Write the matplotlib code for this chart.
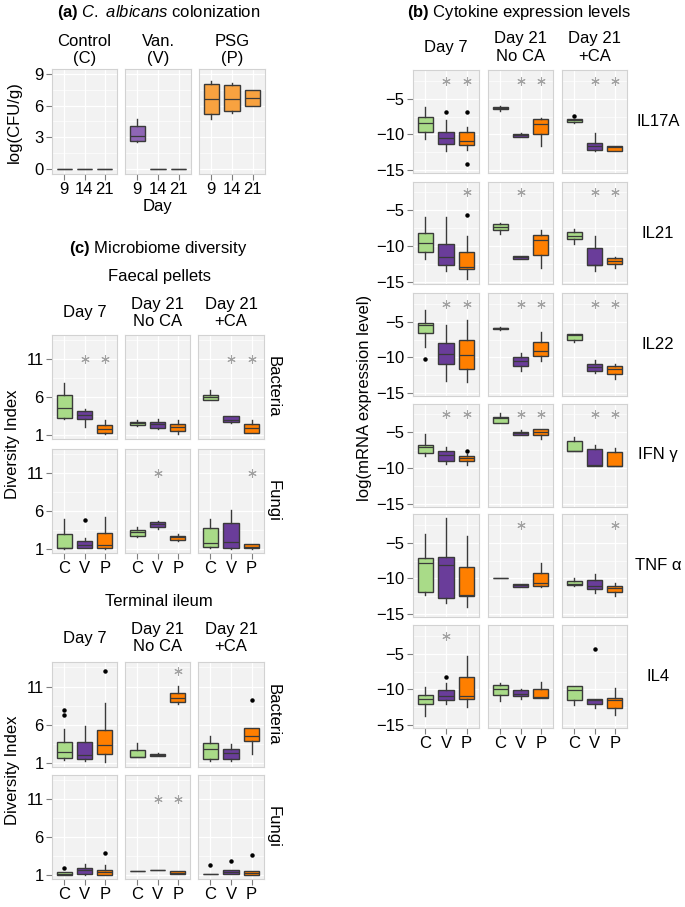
import matplotlib
matplotlib.use("Agg")
import matplotlib.pyplot as plt
from matplotlib.ticker import FixedLocator

plt.rcParams['font.family'] = ['Liberation Sans', 'DejaVu Sans']
plt.rcParams['mathtext.fontset'] = 'custom'
plt.rcParams['mathtext.rm'] = 'Liberation Sans'
plt.rcParams['mathtext.it'] = 'Liberation Sans:italic'
plt.rcParams['mathtext.bf'] = 'Liberation Sans:bold'

# ---- data ----
# box rows are [whisker low, q1, median, q3, whisker high]
a_days = ["9", "14", "21"]
a_groups = ["Control\n(C)", "Van.\n(V)", "PSG\n(P)"]
a_control = [[0, 0, 0, 0, 0], [0, 0, 0, 0, 0], [0, 0, 0, 0, 0]]
a_van = [[2.6, 2.7, 3.1, 4.05, 4.75], [0, 0, 0, 0, 0], [0, 0, 0, 0, 0]]
a_psg = [[4.7, 5.2, 6.65, 8.0, 8.35], [5.3, 5.45, 6.6, 7.95, 8.1], [6.0, 6.0, 6.75, 7.5, 7.5]]

groups = ["C", "V", "P"]
times = ["Day 7", "Day 21\nNo CA", "Day 21\n+CA"]
# order of the nine boxes: Day 7 C,V,P / Day 21 No CA C,V,P / Day 21 +CA C,V,P
cytokines = ["IL17A", "IL21", "IL22", "IFN γ", "TNF α", "IL4"]

il17a = [[-10.7, -9.6, -8.4, -7.5, -6.2], [-12.3, -11.4, -10.5, -9.6, -8.0], [-12.2, -11.45, -10.9, -9.7, -9.0],
         [-6.7, -6.5, -6.3, -6.1, -6.0], [-10.35, -10.3, -10.1, -9.9, -9.85], [-11.6, -10.0, -8.6, -7.85, -7.75],
         [-8.35, -8.3, -8.05, -7.85, -7.8], [-12.3, -12.2, -11.7, -11.2, -9.8], [-12.35, -12.35, -11.8, -11.6, -11.6]]
il17a_out = [[], [-6.8], [-6.8, -14.1], [], [], [], [-7.4], [], []]
il17a_star = [1, 2, 4, 5, 7, 8]

il21 = [[-11.8, -10.9, -9.55, -8.15, -6.0], [-13.55, -12.75, -11.6, -9.8, -6.0], [-14.7, -13.2, -13.0, -10.8, -8.6],
        [-8.3, -7.8, -7.4, -7.0, -6.8], [-11.8, -11.8, -11.6, -11.45, -11.45], [-13.1, -11.25, -9.15, -8.5, -7.8],
        [-9.7, -9.1, -8.55, -8.0, -7.6], [-13.55, -12.75, -12.7, -10.25, -8.55], [-13.1, -12.6, -12.15, -11.7, -11.6]]
il21_out = [[], [], [-5.65], [], [], [], [], [], []]
il21_star = [2, 4, 7, 8]

il22 = [[-8.55, -6.65, -5.5, -5.2, -3.4], [-13.3, -11.0, -9.5, -7.95, -5.4], [-13.45, -11.7, -9.6, -7.6, -4.7],
        [-6.1, -6.05, -5.95, -5.85, -5.8], [-11.85, -11.15, -10.45, -9.9, -9.45], [-10.45, -9.75, -9.05, -7.8, -6.45],
        [-7.8, -7.6, -6.85, -6.75, -6.7], [-12.2, -11.95, -11.3, -11.0, -10.3], [-13.0, -12.3, -11.6, -11.15, -11.0]]
il22_out = [[-10.2], [], [], [], [], [], [], [], []]
il22_star = [1, 2, 4, 5, 7, 8]

ifng = [[-8.3, -7.9, -7.1, -6.75, -5.25], [-9.45, -9.1, -8.2, -7.7, -7.1], [-9.55, -9.0, -8.6, -8.35, -8.0],
        [-3.7, -3.7, -3.0, -2.9, -2.3], [-5.45, -5.4, -5.1, -4.9, -4.7], [-5.95, -5.4, -5.0, -4.55, -4.55],
        [-7.7, -7.7, -7.6, -6.2, -5.7], [-9.75, -9.7, -9.65, -7.35, -6.8], [-9.8, -9.8, -9.7, -7.8, -7.25]]
ifng_out = [[], [], [-7.6], [], [], [], [], [], []]
ifng_star = [1, 2, 4, 5, 7, 8]

tnfa = [[-12.3, -11.85, -7.9, -7.2, -3.8], [-13.5, -12.8, -8.15, -7.0, -1.55], [-14.0, -12.5, -12.4, -8.4, -4.0],
        [-10.0, -9.98, -9.95, -9.92, -9.9], [-11.2, -11.2, -11.0, -10.75, -10.75], [-11.15, -11.1, -10.65, -9.2, -7.8],
        [-11.1, -11.0, -10.75, -10.4, -10.0], [-12.0, -11.45, -11.1, -10.2, -9.35], [-12.5, -11.95, -11.3, -11.1, -10.65]]
tnfa_out = [[], [], [], [], [], [], [], [], []]
tnfa_star = [4, 8]

il4 = [[-13.8, -12.05, -11.35, -10.8, -9.7], [-12.05, -11.45, -11.0, -10.15, -9.1], [-12.5, -11.35, -11.0, -8.3, -5.35],
       [-11.7, -10.8, -9.9, -9.45, -9.1], [-11.35, -11.0, -10.6, -10.15, -9.9], [-11.2, -11.2, -11.1, -10.0, -9.0],
       [-12.2, -11.45, -10.15, -9.55, -9.55], [-12.6, -12.05, -11.5, -11.35, -11.35], [-13.6, -12.6, -11.45, -11.25, -9.8]]
il4_out = [[], [-8.3], [], [], [], [], [], [-4.3], []]
il4_star = [1]

cyto_star_y = -2.5

# microbiome diversity
faecal_bac = [[3.2, 3.3, 4.6, 6.3, 7.9], [2.1, 3.2, 3.7, 4.2, 4.5], [1.15, 1.25, 1.8, 2.3, 3.0],
              [2.2, 2.3, 2.55, 2.8, 3.0], [1.8, 2.0, 2.45, 2.75, 3.2], [1.15, 1.55, 2.1, 2.5, 3.0],
              [5.6, 5.6, 6.0, 6.35, 6.9], [2.6, 2.75, 3.0, 3.55, 3.55], [1.3, 1.35, 1.9, 2.45, 3.0]]
faecal_bac_out = [[], [], [], [], [], [], [], [], []]
faecal_bac_star = [1, 2, 7, 8]

faecal_fun = [[1.0, 1.1, 1.15, 2.95, 5.0], [1.1, 1.2, 1.6, 2.1, 2.5], [1.0, 1.1, 1.55, 3.1, 5.3],
              [2.55, 2.8, 3.25, 3.55, 3.9], [3.7, 3.9, 4.35, 4.6, 4.7], [2.05, 2.25, 2.55, 2.8, 3.0],
              [1.1, 1.35, 1.8, 3.8, 5.0], [1.0, 1.1, 1.9, 4.4, 6.2], [1.05, 1.1, 1.35, 1.65, 1.75]]
faecal_fun_out = [[], [4.9], [], [], [], [], [], [], []]
faecal_fun_star = [4, 8]

ileum_bac = [[1.4, 1.65, 2.5, 3.7, 5.45], [1.3, 1.6, 2.05, 3.7, 5.8], [1.15, 2.2, 3.35, 5.35, 8.9],
             [1.75, 1.75, 1.85, 2.7, 3.6], [1.95, 2.0, 2.1, 2.25, 2.3], [8.7, 9.0, 9.45, 10.2, 11.1],
             [1.3, 1.5, 2.8, 3.6, 4.55], [1.3, 1.6, 2.3, 2.9, 3.5], [2.2, 3.85, 4.55, 5.65, 5.65]]
ileum_bac_out = [[7.25, 7.9], [], [13.05], [], [], [], [], [], [9.2]]
ileum_bac_star = [5]

ileum_fun = [[1.05, 1.05, 1.15, 1.4, 1.4], [1.05, 1.2, 1.65, 1.95, 2.5], [1.0, 1.05, 1.4, 1.75, 2.4],
             [1.6, 1.6, 1.6, 1.6, 1.6], [1.75, 1.75, 1.75, 1.75, 1.75], [1.15, 1.2, 1.35, 1.5, 1.5],
             [1.1, 1.1, 1.1, 1.1, 1.1], [1.1, 1.1, 1.4, 1.75, 1.75], [1.05, 1.05, 1.3, 1.6, 1.6]]
ileum_fun_out = [[1.95], [], [3.9], [], [], [], [2.4], [2.85], [3.6]]
ileum_fun_star = [4, 5]

GREEN, PURPLE, ORANGE = '#a9db88', '#6a3d9a', '#ff7f00'
A_COLORS = ['#a9db88', '#8f66b5', '#f8a240']
EDGE = '#3a3a3a'

W, H = 685, 907
fig = plt.figure(figsize=(W / 100, H / 100), dpi=100)


def add_ax(x0, y0, x1, y1):
    return fig.add_axes([x0 / W, 1 - y1 / H, (x1 - x0) / W, (y1 - y0) / H])


def ftext(x, y, s, **kw):
    kw.setdefault('ha', 'center')
    kw.setdefault('va', 'center')
    kw.setdefault('fontsize', 12)
    fig.text(x / W, 1 - y / H, s, **kw)


def style_ax(ax, ylim, yticks, yminor, show_y, show_x, xlabels):
    ax.set_facecolor('#f2f2f2')
    for sp in ax.spines.values():
        sp.set_color('#d2d2d2')
        sp.set_linewidth(0.8)
    ax.set_xlim(0.4, 3.6)
    ax.set_ylim(*ylim)
    ax.set_xticks([1, 2, 3])
    ax.set_yticks(yticks)
    ax.yaxis.set_minor_locator(FixedLocator(yminor))
    ax.set_axisbelow(True)
    ax.grid(True, which='major', color='white', lw=0.9)
    ax.grid(True, which='minor', axis='y', color='white', lw=0.45)
    ax.tick_params(which='major', direction='out', length=4, width=0.8, color='#7f7f7f',
                   labelsize=12, pad=2, labelcolor='black')
    ax.tick_params(which='minor', length=0)
    ax.tick_params(axis='y', left=show_y, labelleft=show_y)
    ax.tick_params(axis='x', bottom=show_x, labelbottom=show_x)
    if show_x:
        ax.set_xticklabels(xlabels)
    if show_y:
        ax.set_yticklabels([str(t).replace('-', '\u2212') for t in yticks])


def draw_boxes(ax, rows, outs, colors):
    stats = [dict(whislo=r[0], q1=r[1], med=r[2], q3=r[3], whishi=r[4], fliers=o)
             for r, o in zip(rows, outs)]
    bp = ax.bxp(stats, positions=[1, 2, 3], widths=0.75, patch_artist=True, showcaps=False,
                boxprops=dict(edgecolor=EDGE, linewidth=1.0),
                medianprops=dict(color=EDGE, linewidth=0.9),
                whiskerprops=dict(color=EDGE, linewidth=1.0),
                flierprops=dict(marker='o', markersize=2.2, markerfacecolor='black',
                                markeredgecolor='black'))
    for patch, c in zip(bp['boxes'], colors):
        patch.set_facecolor(c)


def draw_stars(ax, idx, col, y):
    xs = [i % 3 + 1 for i in idx if i // 3 == col]
    if xs:
        ax.plot(xs, [y] * len(xs), linestyle='none', marker=(6, 2, 0), markersize=6,
                markeredgewidth=0.75, color='#a3a3a3')


# ---- (a) C. albicans colonization ----
ftext(158.5, 12, r"$\bf{(a)}$ $\it{C.\ albicans}$ colonization")
a_cols = [(52, 117), (125, 191), (199, 265)]
for j, (data, (x0, x1)) in enumerate(zip([a_control, a_van, a_psg], a_cols)):
    ax = add_ax(x0, 69, x1, 174)
    draw_boxes(ax, data, [[], [], []], [A_COLORS[j]] * 3)
    style_ax(ax, (-0.45, 9.45), [0, 3, 6, 9], [1.5, 4.5, 7.5], j == 0, True, a_days)
    ftext((x0 + x1) / 2, 50, a_groups[j])
ftext(158, 207, "Day")
ftext(14, 122, "log(CFU/g)", rotation=90)

# ---- (c) microbiome diversity ----
ftext(158, 249, r"$\bf{(c)}$ Microbiome diversity")
c_cols = [(52, 117), (125, 190), (198, 264)]
blocks = [
    ("Faecal pellets", 277, 313, [(335, 439, faecal_bac, faecal_bac_out, faecal_bac_star, 11.0, "Bacteria"),
                                  (449, 553, faecal_fun, faecal_fun_out, faecal_fun_star, 11.0, "Fungi")]),
    ("Terminal ileum", 602, 638, [(662, 767, ileum_bac, ileum_bac_out, ileum_bac_star, 13.05, "Bacteria"),
                                  (775, 879, ileum_fun, ileum_fun_out, ileum_fun_star, 11.0, "Fungi")]),
]
for label, ly, sy, rows in blocks:
    ftext(159, ly, label)
    for j, (x0, x1) in enumerate(c_cols):
        ftext((x0 + x1) / 2, sy, times[j])
    for r, (y0, y1, data, outs, stars, star_y, rname) in enumerate(rows):
        for j, (x0, x1) in enumerate(c_cols):
            ax = add_ax(x0, y0, x1, y1)
            draw_boxes(ax, data[3 * j:3 * j + 3], outs[3 * j:3 * j + 3], [GREEN, PURPLE, ORANGE])
            draw_stars(ax, stars, j, star_y)
            style_ax(ax, (0.5, 14.2), [1, 6, 11], [3.5, 8.5, 13.5], j == 0, r == 1, groups)
        ftext(273, (y0 + y1) / 2, rname, rotation=270)
    ftext(13, (rows[0][0] + rows[1][1]) / 2, "Diversity Index", rotation=90)

# ---- (b) cytokine expression ----
ftext(519, 12, r"$\bf{(b)}$ Cytokine expression levels")
b_cols = [(413, 479), (488, 553), (562, 627)]
b_tops = [70, 181.5, 293, 403.5, 514, 625]
b_data = [il17a, il21, il22, ifng, tnfa, il4]
b_outs = [il17a_out, il21_out, il22_out, ifng_out, tnfa_out, il4_out]
b_stars = [il17a_star, il21_star, il22_star, ifng_star, tnfa_star, il4_star]
for j, (x0, x1) in enumerate(b_cols):
    ftext((x0 + x1) / 2, 47.5, times[j])
for r, top in enumerate(b_tops):
    for j, (x0, x1) in enumerate(b_cols):
        ax = add_ax(x0, top, x1, top + 103)
        draw_boxes(ax, b_data[r][3 * j:3 * j + 3], b_outs[r][3 * j:3 * j + 3], [GREEN, PURPLE, ORANGE])
        draw_stars(ax, b_stars[r], j, cyto_star_y)
        style_ax(ax, (-15.42, -0.97), [-15, -10, -5], [-12.5, -7.5, -2.5], j == 0, r == 5, groups)
    ftext(658, top + 51.5, cytokines[r])
ftext(365, 398, "log(mRNA expression level)", rotation=90)

fig.savefig("out.png", dpi=100)
